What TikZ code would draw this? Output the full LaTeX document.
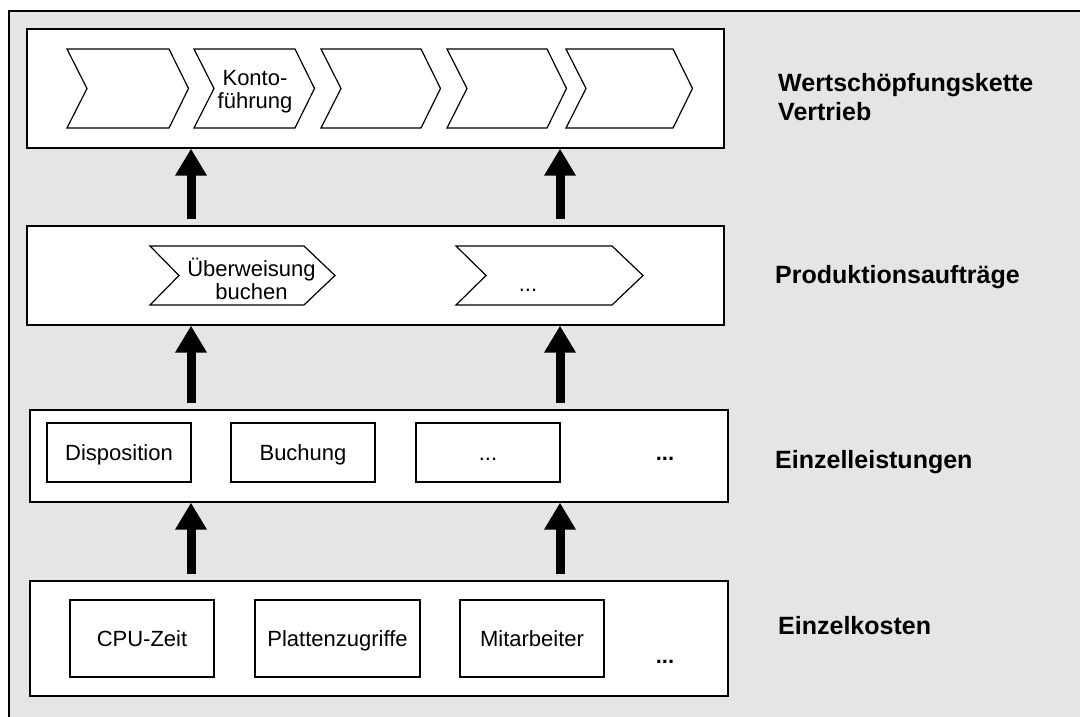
\documentclass[tikz,border=0pt]{standalone}
\usepackage{fontspec}
\setmainfont{Liberation Sans}
\usetikzlibrary{arrows.meta}
\definecolor{flaeche}{RGB}{229,229,229}
\tikzset{
  ebene/.style={draw=black, line width=1.3pt, fill=white, inner sep=0pt},
  feld/.style={draw=black, line width=1.2pt, fill=white, inner sep=0pt,
    text height=16pt, text depth=0pt, font=\fontsize{22}{23.5}\selectfont},
  kette/.style={draw=black, line width=1.2pt, fill=white, line join=miter},
  schrift/.style={inner sep=0pt, font=\fontsize{22}{23.5}\selectfont},
  titel/.style={inner sep=0pt, font=\fontsize{25}{29}\selectfont\bfseries},
  pfeil/.style={line width=9pt, -{Triangle[width=30pt,length=27pt]}, shorten <=6pt}
}
\begin{document}
\begin{tikzpicture}[x=1pt,y=-1pt]
\useasboundingbox (0,0) rectangle (1080,717);
\clip (0,0) rectangle (1080,717);
\draw [black, line width=1.6pt, fill=flaeche] (9,11) rectangle (1100,740);
\node (kette) [ebene, minimum width=697pt, minimum height=119pt] at (375.5,88.5) {};
\node (auftrag) [ebene, minimum width=697pt, minimum height=99pt] at (375.5,275.5) {};
\node (leistung) [ebene, minimum width=698pt, minimum height=92pt] at (379,456) {};
\node (kosten) [ebene, minimum width=698pt, minimum height=115pt] at (379,638.5) {};
\foreach \l/\w in {67/102,194/101,321/100,447/100,566/107}
  \draw [kette] (\l,49) -- ({\l+\w},49) -- ({\l+\w+19.5},88.5) -- ({\l+\w},128)
    -- (\l,128) -- ({\l+20},88.5) -- cycle;
\node (konto) [schrift, align=center] at (255,91.5) {Konto-\\führung};
\draw [kette] (150,246) -- (304,246) -- (335,275.5) -- (304,305) -- (150,305) -- (179,275.5) -- cycle;
\draw [kette] (456,246) -- (612,246) -- (643,275.5) -- (612,305) -- (456,305) -- (486,275.5) -- cycle;
\node (ueberweisung) [schrift, align=center] at (251.5,278.8) {Überweisung\\buchen};
\node (auftragweiter) [schrift, anchor=base] at (528,291) {...};
\node (disposition) [feld, minimum width=144pt, minimum height=59pt] at (119,452.5) {Disposition};
\node (buchung) [feld, minimum width=144pt, minimum height=59pt] at (303,452.5) {Buchung};
\node (leistungweiter) [feld, minimum width=144pt, minimum height=59pt] at (488,452.5) {...};
\node (leistungrest) [schrift, font=\fontsize{22}{23.5}\selectfont\bfseries, anchor=base] at (665,460) {...};
\node (cpu) [feld, minimum width=144pt, minimum height=77pt] at (142,638.5) {CPU-Zeit};
\node (platte) [feld, minimum width=165pt, minimum height=77pt] at (337.5,638.5) {Plattenzugriffe};
\node (mitarbeiter) [feld, minimum width=144pt, minimum height=77pt] at (532,638.5) {Mitarbeiter};
\node (kostenrest) [schrift, font=\fontsize{22}{23.5}\selectfont\bfseries, anchor=base] at (665,663.5) {...};
\coordinate (spalteA) at (191,0);
\coordinate (spalteB) at (560,0);
\draw [pfeil] (auftrag.north -| spalteA) -- (kette.south -| spalteA);
\draw [pfeil] (auftrag.north -| spalteB) -- (kette.south -| spalteB);
\draw [pfeil] (leistung.north -| spalteA) -- (auftrag.south -| spalteA);
\draw [pfeil] (leistung.north -| spalteB) -- (auftrag.south -| spalteB);
\draw [pfeil] (kosten.north -| spalteA) -- (leistung.south -| spalteA);
\draw [pfeil] (kosten.north -| spalteB) -- (leistung.south -| spalteB);
\node (wertschoepfung) [titel, align=left, anchor=west] at (778,97.4) {Wertschöpfungskette\\Vertrieb};
\node (produktion) [titel, anchor=base west] at (775,283.5) {Produktionsaufträge};
\node (einzelleistung) [titel, anchor=base west] at (775,468) {Einzelleistungen};
\node (einzelkosten) [titel, anchor=base west] at (778,634) {Einzelkosten};
\end{tikzpicture}
\end{document}
